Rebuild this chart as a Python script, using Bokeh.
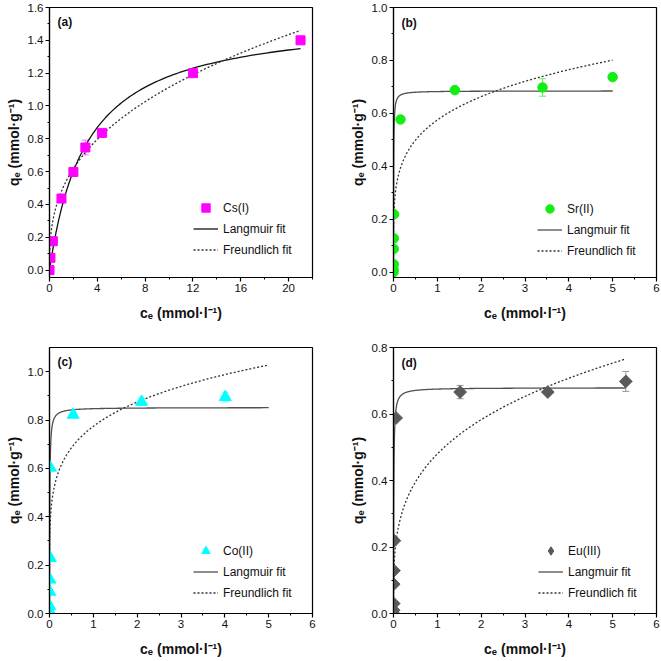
import numpy as np
from bokeh.plotting import figure
from bokeh.models import (Range1d, FixedTicker, Label, Legend, LegendItem, Whisker,
                          ColumnDataSource, TeeHead, PrintfTickFormatter)
from bokeh.layouts import column, row
from bokeh.embed import file_html
from bokeh.resources import INLINE

# ---------------- data ----------------
# (a) Cs(I)
cs_ce = [0.0, 0.08, 0.28, 1.0, 2.0, 3.0, 4.4, 12.0, 21.0]
cs_qe = [0.0, 0.075, 0.176, 0.436, 0.598, 0.747, 0.836, 1.20, 1.40]
cs_err = [0.0, 0.0, 0.0, 0.0, 0.01, 0.045, 0.0, 0.0, 0.0]
cs_langmuir = dict(qm=1.552, K=0.318, cmax=21.0)
cs_freundlich = dict(KF=0.48, inv_n=0.3655, cmax=21.0)

# (b) Sr(II)
sr_ce = [0.0, 0.003, 0.005, 0.005, 0.008, 0.012, 0.16, 1.40, 3.40, 5.0]
sr_qe = [0.0, 0.01, 0.03, 0.088, 0.128, 0.219, 0.577, 0.688, 0.698, 0.737]
sr_err = [0.0, 0.0, 0.0, 0.0, 0.0, 0.0, 0.0, 0.0, 0.033, 0.0]
sr_langmuir = dict(qm=0.685, K=266.0, cmax=5.0)
sr_freundlich = dict(KF=0.575, inv_n=0.206, cmax=5.0)

# (c) Co(II)
co_ce = [0.0, 0.003, 0.005, 0.006, 0.01, 0.02, 0.02, 0.54, 2.10, 4.01]
co_qe = [0.0, 0.01, 0.03, 0.09, 0.14, 0.229, 0.603, 0.822, 0.875, 0.895]
co_err = [0.0, 0.0, 0.0, 0.0, 0.0, 0.0, 0.0, 0.01, 0.015, 0.02]
co_langmuir = dict(qm=0.852, K=167.0, cmax=5.0)
co_freundlich = dict(KF=0.774, inv_n=0.176, cmax=5.0)

# (d) Eu(III)
eu_ce = [0.0, 0.003, 0.005, 0.006, 0.01, 0.02, 0.06, 1.52, 3.52, 5.30]
eu_qe = [0.0, 0.01, 0.03, 0.088, 0.129, 0.219, 0.588, 0.666, 0.666, 0.698]
eu_err = [0.0, 0.0, 0.0, 0.0, 0.0, 0.0, 0.0, 0.02, 0.005, 0.03]
eu_langmuir = dict(qm=0.679, K=166.0, cmax=5.3)
eu_freundlich = dict(KF=0.48, inv_n=0.28, cmax=5.3)

# axis ticks
ticks_x_a = [0, 4, 8, 12, 16, 20]
minor_x_a = [0, 2, 4, 6, 8, 10, 12, 14, 16, 18, 20, 22]
ticks_x_bcd = [0, 1, 2, 3, 4, 5, 6]
minor_x_bcd = [0, 0.5, 1, 1.5, 2, 2.5, 3, 3.5, 4, 4.5, 5, 5.5, 6]
ticks_y_a = [0.0, 0.2, 0.4, 0.6, 0.8, 1.0, 1.2, 1.4, 1.6]
ticks_y_b = [0.0, 0.2, 0.4, 0.6, 0.8, 1.0]
ticks_y_c = [0.0, 0.2, 0.4, 0.6, 0.8, 1.0]
ticks_y_d = [0.0, 0.2, 0.4, 0.6, 0.8]

XLABEL = "c\u2091 (mmol\u00b7l\u207b\u00b9)"
YLABEL = "q\u2091 (mmol\u00b7g\u207b\u00b9)"
FONT = "Liberation Sans"


def curve_x(cmax):
    return np.concatenate([[0.0], np.geomspace(1e-4, cmax, 500)])


def langmuir(c, qm, K):
    return qm * K * c / (1.0 + K * c)


def freundlich(c, KF, inv_n):
    return KF * np.power(c, inv_n)


def minor_from(major):
    out = []
    for a, b in zip(major[:-1], major[1:]):
        out += [a, (a + b) / 2]
    out.append(major[-1])
    return out


def panel(w, h, bl, br, bt, bb, xr, yr, xt, xmt, yt, tag,
          ce, qe, err, lang, freu, name, color, marker, msize, angle,
          lang_color, err_color, leg_loc, leg_marker=None):
    p = figure(width=w, height=h, x_range=Range1d(*xr), y_range=Range1d(*yr),
               output_backend="svg", toolbar_location=None,
               min_border_left=bl, min_border_right=br,
               min_border_top=bt, min_border_bottom=bb,
               background_fill_color="white", border_fill_color="white")
    p.xgrid.visible = False
    p.ygrid.visible = False
    p.outline_line_color = "black"
    p.outline_line_width = 1.2
    p.outline_line_alpha = 1.0

    p.xaxis.ticker = FixedTicker(ticks=xt, minor_ticks=xmt)
    p.yaxis.ticker = FixedTicker(ticks=yt, minor_ticks=minor_from(yt))
    p.yaxis.formatter = PrintfTickFormatter(format="%.1f")
    p.xaxis.axis_label = XLABEL
    p.yaxis.axis_label = YLABEL
    for ax in (p.xaxis[0], p.yaxis[0]):
        ax.major_tick_in = 0
        ax.major_tick_out = 4
        ax.minor_tick_in = 0
        ax.minor_tick_out = 2
        ax.axis_line_width = 1.2
        ax.axis_line_color = "black"
        ax.major_tick_line_width = 1.2
        ax.major_tick_line_color = "black"
        ax.minor_tick_line_width = 1.0
        ax.minor_tick_line_color = "black"
        ax.major_label_text_font = FONT
        ax.major_label_text_font_size = "11.5px"
        ax.major_label_text_color = "#111111"
        ax.major_label_standoff = 2
        ax.axis_label_text_font = FONT
        ax.axis_label_text_font_size = "14px"
        ax.axis_label_text_font_style = "bold"
        ax.axis_label_text_color = "#111111"
    p.xaxis.axis_label_standoff = 10
    p.yaxis.axis_label_standoff = 3

    # error bars
    idx = [i for i, e in enumerate(err) if e > 0]
    if idx:
        esrc = ColumnDataSource(dict(
            x=[ce[i] for i in idx],
            upper=[qe[i] + err[i] for i in idx],
            lower=[qe[i] - err[i] for i in idx]))
        wh = Whisker(base="x", upper="upper", lower="lower", source=esrc,
                     dimension="height", line_color=err_color, line_width=1,
                     upper_head=TeeHead(size=7, line_color=err_color, line_width=1),
                     lower_head=TeeHead(size=7, line_color=err_color, line_width=1))
        p.add_layout(wh)

    cl = curve_x(lang["cmax"])
    r_l = p.line(cl, langmuir(cl, lang["qm"], lang["K"]), line_color=lang_color,
                 line_width=1.3)
    cf = curve_x(freu["cmax"])
    r_f = p.line(cf, freundlich(cf, freu["KF"], freu["inv_n"]), line_color="#333333",
                 line_width=1.3, line_dash="2 2")
    r_s = p.scatter(ce, qe, marker=marker, size=msize, angle=angle,
                    fill_color=color, line_color=color)
    r_leg = r_s
    if leg_marker is not None:
        # hidden legend proxy of the same data, so the legend shows the diamond shape
        r_leg = p.scatter(ce, qe, marker=leg_marker, size=msize,
                          fill_color=color, line_color=color, visible=False)

    leg = Legend(items=[LegendItem(label=name, renderers=[r_leg]),
                        LegendItem(label="Langmuir fit", renderers=[r_l]),
                        LegendItem(label="Freundlich fit", renderers=[r_f])],
                 location=leg_loc, padding=0, margin=0, spacing=-6,
                 glyph_width=25, glyph_height=21, label_height=15,
                 label_standoff=5, label_text_font=FONT,
                 label_text_font_size="12px", label_text_color="#111111",
                 border_line_color=None, background_fill_alpha=0,
                 inactive_fill_alpha=0)
    p.add_layout(leg)

    fh = h - bt - bb
    p.add_layout(Label(x=8, y=fh - 15, x_units="screen", y_units="screen",
                       text=tag, text_font=FONT, text_font_size="12px",
                       text_font_style="bold", text_baseline="middle",
                       text_color="#111111"))
    return p


pa = panel(337, 338, 49, 25, 7, 60, (0, 22), (-0.045, 1.6), ticks_x_a, minor_x_a,
           ticks_y_a, "(a)", cs_ce, cs_qe, cs_err, cs_langmuir, cs_freundlich,
           "Cs(I)", "#ff00ff", "square", 9, 0.0, "#111111", "#ff66ff", (144, 17))
pb = panel(323, 338, 56, 4, 7, 61, (0, 6), (-0.02, 1.0), ticks_x_bcd, minor_x_bcd,
           ticks_y_b, "(b)", sr_ce, sr_qe, sr_err, sr_langmuir, sr_freundlich,
           "Sr(II)", "#11ee11", "circle", 9.5, 0.0, "#505050", "#66ee66", (144, 16))
pc = panel(337, 322, 49, 25, 8, 47, (0, 6), (0, 1.1), ticks_x_bcd, minor_x_bcd,
           ticks_y_c, "(c)", co_ce, co_qe, co_err, co_langmuir, co_freundlich,
           "Co(II)", "#00ffff", "triangle", 12, 0.0, "#505050", "#66ffff", (144, 10))
pd = panel(323, 322, 56, 4, 9, 47, (0, 6), (0, 0.8), ticks_x_bcd, minor_x_bcd,
           ticks_y_d, "(d)", eu_ce, eu_qe, eu_err, eu_langmuir, eu_freundlich,
           "Eu(III)", "#5a5a5a", "square", 9, np.pi / 4, "#505050", "#999999", (145, 10),
           leg_marker="diamond")

layout = column(row(pa, pb), row(pc, pd))
open("out.html", "w").write(file_html(layout, INLINE))
